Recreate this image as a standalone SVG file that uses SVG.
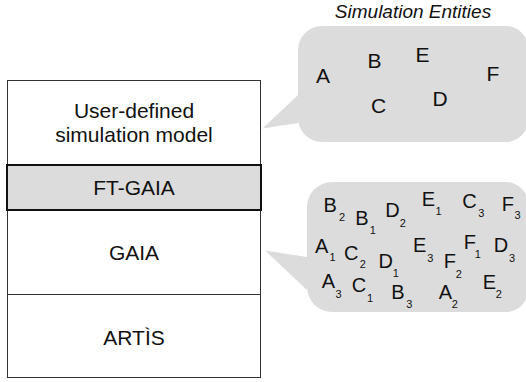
<svg xmlns="http://www.w3.org/2000/svg" width="526" height="382" viewBox="0 0 526 382">
<style>
text{font-family:"Liberation Sans",Arial,sans-serif;fill:#111;}
.lbl{font-size:21px;text-anchor:middle;}
.ent{font-size:21px;}
.rep{font-size:20px;}
.sub{font-size:11px;}
.bub{fill:#dcdcdc;stroke:none;}
.layer{fill:#ffffff;stroke:#333;stroke-width:1;}
</style>
<rect width="526" height="382" fill="#fff"/>
<g id="stack">
<rect class="layer" x="7.5" y="80.5" width="253" height="297"/>
<line x1="7" y1="294.5" x2="261" y2="294.5" stroke="#333" stroke-width="1"/>
</g>
<g id="user-model">
<text class="lbl" x="134" y="118">User-defined</text>
<text class="lbl" x="134" y="142">simulation model</text>
</g>
<g id="ft-gaia">
<rect x="7" y="165" width="254" height="45" fill="#dcdcdc" stroke="#111" stroke-width="2"/>
<text class="lbl" x="134" y="195">FT-GAIA</text>
</g>
<g id="gaia">
<text class="lbl" x="134" y="260">GAIA</text>
</g>
<g id="artis">
<text class="lbl" x="134" y="345">ARTÌS</text>
</g>
<g id="connectors">
<path class="bub" d="M322,26 H506 A22,22 0 0 1 528,48 V120 A22,22 0 0 1 506,142 H322 A24,24 0 0 1 298,118 V123 L262.5,128.5 L298,95 V50 A24,24 0 0 1 322,26 Z"/>
<path class="bub" d="M332,182 H506 A22,22 0 0 1 528,204 V290 A22,22 0 0 1 506,312 H332 A25,25 0 0 1 307,287 V290 L265,250.5 L307,257 V207 A25,25 0 0 1 332,182 Z"/>
</g>
<g id="entities-title">
<text x="413" y="18" font-size="19" font-style="italic" text-anchor="middle">Simulation Entities</text>
</g>
<g id="entities">
<text class="ent" x="316" y="83">A</text>
<text class="ent" x="367.5" y="68">B</text>
<text class="ent" x="415.5" y="62">E</text>
<text class="ent" x="486.5" y="81">F</text>
<text class="ent" x="371" y="113">C</text>
<text class="ent" x="432.5" y="106">D</text>
</g>
<g id="replicas">
<text class="rep"><tspan x="323.5" y="211.7">B</tspan><tspan class="sub" x="339" y="220.7">2</tspan></text>
<text class="rep"><tspan x="355.2" y="225">B</tspan><tspan class="sub" x="369.8" y="234">1</tspan></text>
<text class="rep"><tspan x="385.2" y="217.3">D</tspan><tspan class="sub" x="399.7" y="226.7">2</tspan></text>
<text class="rep"><tspan x="421.8" y="206">E</tspan><tspan class="sub" x="435.5" y="215">1</tspan></text>
<text class="rep"><tspan x="462.3" y="208.3">C</tspan><tspan class="sub" x="478.3" y="216.7">3</tspan></text>
<text class="rep"><tspan x="501.8" y="210.7">F</tspan><tspan class="sub" x="514.6" y="219.3">3</tspan></text>
<text class="rep"><tspan x="315" y="253.3">A</tspan><tspan class="sub" x="329.5" y="261">1</tspan></text>
<text class="rep"><tspan x="344" y="260">C</tspan><tspan class="sub" x="359.7" y="267.7">2</tspan></text>
<text class="rep"><tspan x="378.5" y="267.7">D</tspan><tspan class="sub" x="392.8" y="276.7">1</tspan></text>
<text class="rep"><tspan x="413" y="252.3">E</tspan><tspan class="sub" x="427.3" y="261.7">3</tspan></text>
<text class="rep"><tspan x="443.8" y="268.3">F</tspan><tspan class="sub" x="455.7" y="277.7">2</tspan></text>
<text class="rep"><tspan x="463.8" y="249">F</tspan><tspan class="sub" x="474.8" y="257.7">1</tspan></text>
<text class="rep"><tspan x="493.8" y="252.3">D</tspan><tspan class="sub" x="508.9" y="261.7">3</tspan></text>
<text class="rep"><tspan x="321.7" y="288.3">A</tspan><tspan class="sub" x="335.6" y="297.7">3</tspan></text>
<text class="rep"><tspan x="351.7" y="292.3">C</tspan><tspan class="sub" x="367.1" y="302.3">1</tspan></text>
<text class="rep"><tspan x="391.2" y="299">B</tspan><tspan class="sub" x="406.3" y="308.3">3</tspan></text>
<text class="rep"><tspan x="438.7" y="299">A</tspan><tspan class="sub" x="451.7" y="307.7">2</tspan></text>
<text class="rep"><tspan x="482.8" y="289">E</tspan><tspan class="sub" x="495.7" y="298.3">2</tspan></text>
</g>
</svg>
